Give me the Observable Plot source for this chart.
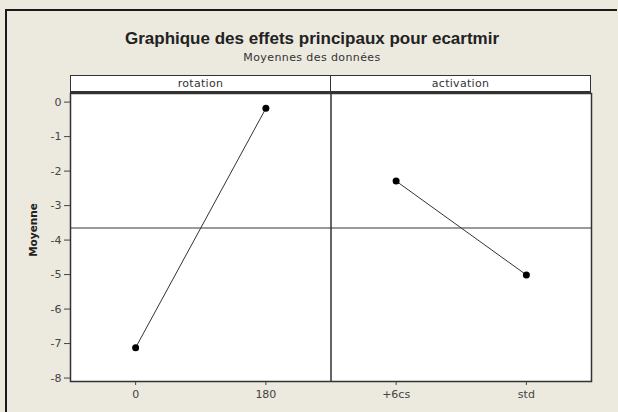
<!DOCTYPE html>
<html>
<head>
<meta charset="utf-8">
<script src="https://cdn.jsdelivr.net/npm/d3@7"></script>
<script src="https://cdn.jsdelivr.net/npm/@observablehq/plot@0.6"></script>
<style>
  html, body { margin: 0; padding: 0; background: #ece9df; overflow: hidden; }
  #wrap { position: relative; width: 618px; height: 412px; background: #ece9df; overflow: hidden; font-family: "DejaVu Sans", sans-serif; }
  #bt { position: absolute; left: 5px; top: 9px; width: 612px; height: 2px; background: #1a1a1a; }
  #bl { position: absolute; left: 5px; top: 9px; width: 2px; height: 403px; background: #1a1a1a; }
  #title { position: absolute; left: 6px; width: 612px; top: 29px; text-align: center; font-family: "Liberation Sans", sans-serif; font-weight: bold; font-size: 17px; color: #222; }
  #subtitle { position: absolute; left: 6px; width: 612px; top: 51px; text-align: center; font-size: 11px; letter-spacing: 0.4px; color: #333; }
  #strip { position: absolute; left: 70px; top: 75px; width: 521px; height: 18px; box-sizing: border-box; background: #fff; border: 1.5px solid #333; border-bottom-width: 2px; display: flex; }
  #strip div { flex: 1; text-align: center; font-size: 11px; letter-spacing: 0.3px; line-height: 15px; color: #333; }
  #strip div + div { border-left: 1.5px solid #333; }
  #ylab { position: absolute; left: 33px; top: 230px; transform: translate(-50%, -50%) rotate(-90deg); font-weight: bold; font-size: 10.5px; color: #222; white-space: nowrap; }
  #chart { position: absolute; left: 0; top: 93px; }
  #chart svg { background: transparent !important; overflow: visible; }
</style>
</head>
<body>
<div id="wrap">
  <div id="bt"></div>
  <div id="bl"></div>
  <div id="title">Graphique des effets principaux pour ecartmir</div>
  <div id="subtitle">Moyennes des données</div>
  <div id="strip"></div>
  <div id="ylab">Moyenne</div>
  <div id="chart"></div>
</div>
<script>
// ---- data ----
const factors = ["rotation", "activation"];
const rotationLevels = ["0", "180"];
const rotationMeans = [-7.12, -0.18];
const activationLevels = ["+6cs", "std"];
const activationMeans = [-2.29, -5.01];
const yTicks = [0, -1, -2, -3, -4, -5, -6, -7, -8];

// ---- build table ----
const levels = [...rotationLevels, ...activationLevels];
const rows = [];
rotationLevels.forEach((l, i) => rows.push({factor: factors[0], level: l, pos: i, mean: rotationMeans[i]}));
activationLevels.forEach((l, i) => rows.push({factor: factors[1], level: l, pos: rotationLevels.length + i, mean: activationMeans[i]}));
const grandMean = d3.mean([...rotationMeans, ...activationMeans]);
const divider = [rotationLevels.length - 0.5];

// strip labels
const strip = document.getElementById("strip");
factors.forEach(f => { const d = document.createElement("div"); d.textContent = f; strip.appendChild(d); });

const chart = Plot.plot({
  width: 591,
  height: 319,
  marginLeft: 70,
  marginRight: 0,
  marginTop: 0,
  marginBottom: 31,
  style: {fontFamily: "DejaVu Sans, sans-serif", fontSize: "11px", color: "#444", background: "transparent"},
  x: {type: "linear", domain: [-0.5, levels.length - 0.5], ticks: d3.range(levels.length), tickFormat: i => levels[i], label: null, tickSize: 4, tickPadding: 5},
  y: {domain: [-8.1, 0.25], ticks: yTicks, tickFormat: d => String(d), label: null, tickSize: 6},
  marks: [
    Plot.frame({fill: "#fff"}),
    Plot.ruleY([grandMean], {stroke: "#9a9a9a", strokeWidth: 2}),
    Plot.ruleX(divider, {stroke: "#333", strokeWidth: 1.5}),
    Plot.line(rows, {x: "pos", y: "mean", z: "factor", stroke: "#333", strokeWidth: 1}),
    Plot.dot(rows, {x: "pos", y: "mean", r: 3.5, fill: "#000"}),
    Plot.frame({stroke: "#333", strokeWidth: 1.5})
  ]
});
document.getElementById("chart").appendChild(chart);
</script>
</body>
</html>
